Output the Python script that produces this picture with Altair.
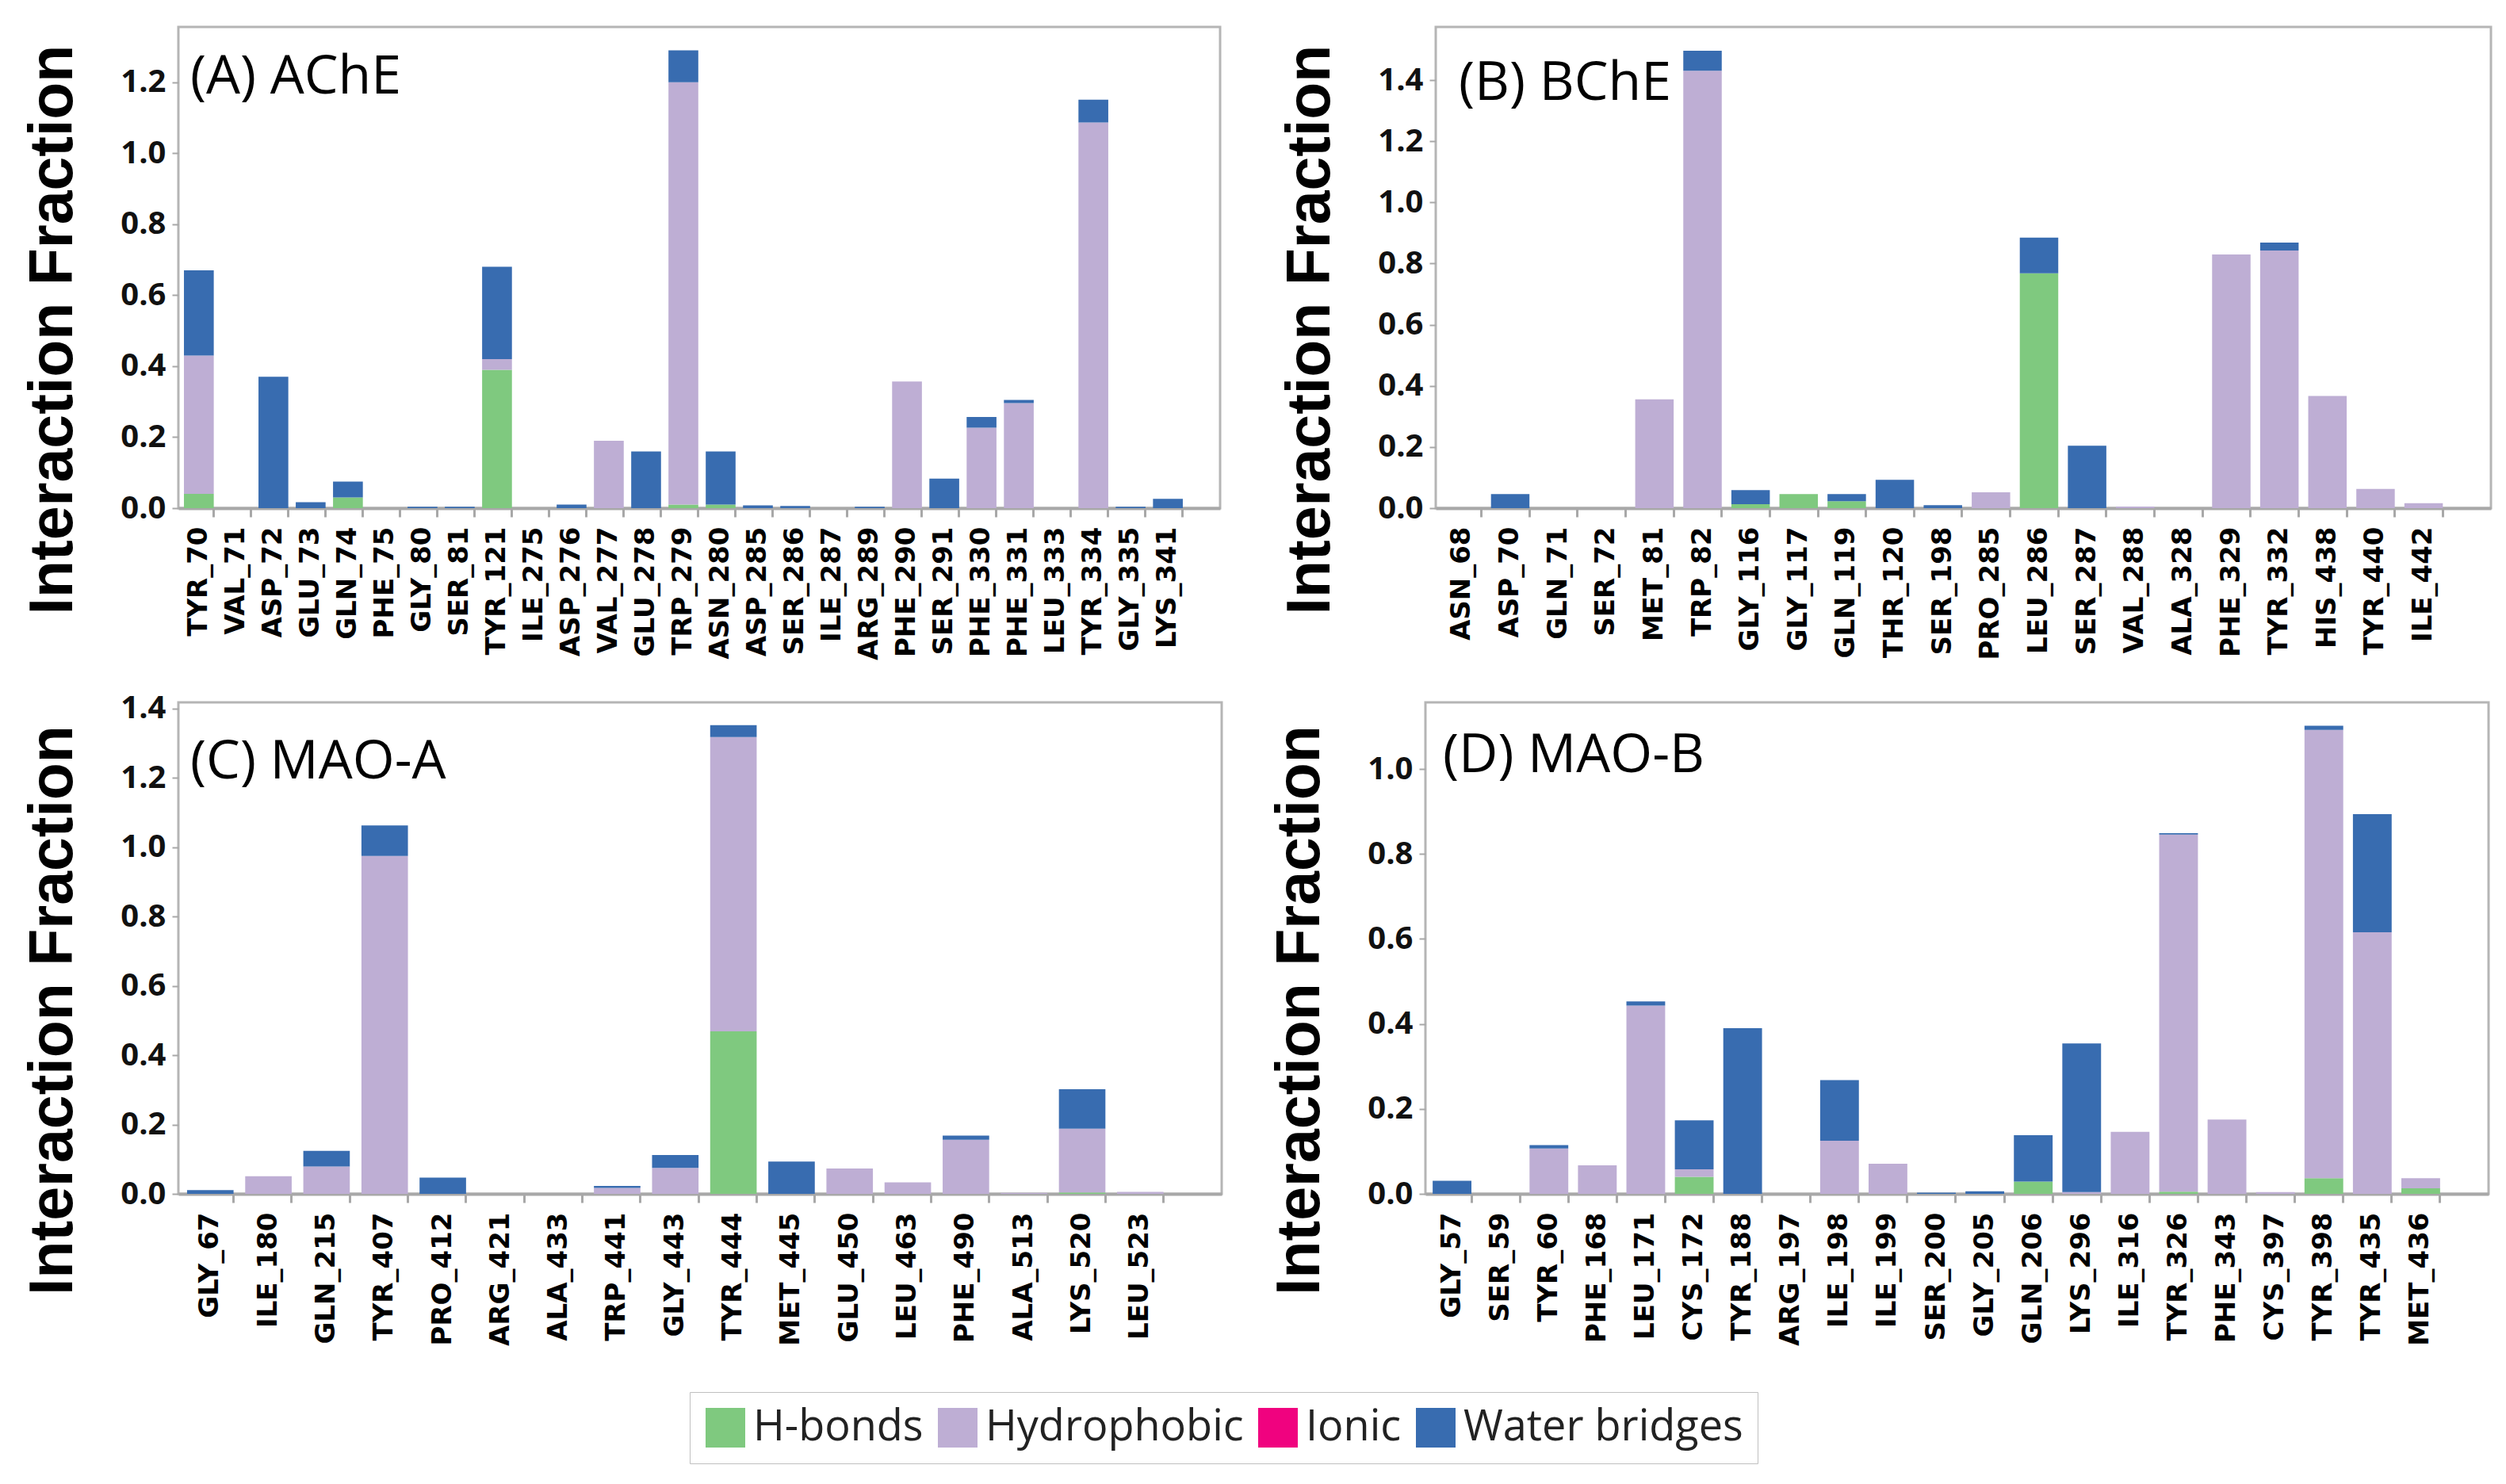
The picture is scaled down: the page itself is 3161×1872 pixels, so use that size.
import altair as alt
import pandas as pd

TYPES = ["H-bonds", "Hydrophobic", "Ionic", "Water bridges"]
COLORS = ["#7fc97f", "#beaed4", "#f0027f", "#386cb0"]

# ---------------- (A) AChE ----------------
a_res = ["TYR_70", "VAL_71", "ASP_72", "GLU_73", "GLN_74", "PHE_75", "GLY_80", "SER_81",
         "TYR_121", "ILE_275", "ASP_276", "VAL_277", "GLU_278", "TRP_279", "ASN_280",
         "ASP_285", "SER_286", "ILE_287", "ARG_289", "PHE_290", "SER_291", "PHE_330",
         "PHE_331", "LEU_333", "TYR_334", "GLY_335", "LYS_341"]
a_hb = [0.04, 0, 0, 0, 0.03, 0, 0, 0, 0.39, 0, 0, 0, 0, 0.01, 0.01, 0, 0, 0, 0, 0, 0, 0,
        0, 0, 0, 0, 0]
a_hyd = [0.39, 0, 0, 0, 0, 0, 0, 0, 0.03, 0, 0, 0.19, 0, 1.19, 0, 0, 0, 0, 0, 0.357, 0,
         0.227, 0.296, 0, 1.087, 0, 0]
a_ion = [0] * 27
a_wb = [0.24, 0, 0.37, 0.017, 0.045, 0, 0.004, 0.004, 0.26, 0, 0.01, 0, 0.16, 0.09, 0.15,
        0.008, 0.006, 0, 0.004, 0, 0.083, 0.03, 0.009, 0, 0.064, 0.004, 0.026]

# ---------------- (B) BChE ----------------
b_res = ["ASN_68", "ASP_70", "GLN_71", "SER_72", "MET_81", "TRP_82", "GLY_116", "GLY_117",
         "GLN_119", "THR_120", "SER_198", "PRO_285", "LEU_286", "SER_287", "VAL_288",
         "ALA_328", "PHE_329", "TYR_332", "HIS_438", "TYR_440", "ILE_442"]
b_hb = [0, 0, 0, 0, 0, 0, 0.013, 0.046, 0.023, 0, 0, 0, 0.768, 0, 0, 0, 0, 0, 0, 0, 0]
b_hyd = [0, 0, 0, 0, 0.356, 1.431, 0, 0, 0, 0, 0, 0.052, 0, 0, 0.005, 0, 0.83, 0.843,
         0.367, 0.063, 0.016]
b_ion = [0] * 21
b_wb = [0, 0.046, 0, 0, 0, 0.065, 0.046, 0, 0.023, 0.093, 0.01, 0, 0.117, 0.204, 0, 0, 0,
        0.026, 0, 0, 0]

# ---------------- (C) MAO-A ----------------
c_res = ["GLY_67", "ILE_180", "GLN_215", "TYR_407", "PRO_412", "ARG_421", "ALA_433",
         "TRP_441", "GLY_443", "TYR_444", "MET_445", "GLU_450", "LEU_463", "PHE_490",
         "ALA_513", "LYS_520", "LEU_523"]
c_hb = [0, 0, 0, 0, 0, 0, 0, 0, 0, 0.469, 0, 0, 0, 0, 0, 0.004, 0]
c_hyd = [0, 0.051, 0.079, 0.975, 0, 0, 0, 0.017, 0.075, 0.849, 0, 0.073, 0.033, 0.156,
         0.003, 0.184, 0.006]
c_ion = [0] * 17
c_wb = [0.011, 0, 0.045, 0.088, 0.047, 0, 0, 0.006, 0.037, 0.034, 0.093, 0, 0, 0.012, 0,
        0.114, 0]

# ---------------- (D) MAO-B ----------------
d_res = ["GLY_57", "SER_59", "TYR_60", "PHE_168", "LEU_171", "CYS_172", "TYR_188",
         "ARG_197", "ILE_198", "ILE_199", "SER_200", "GLY_205", "GLN_206", "LYS_296",
         "ILE_316", "TYR_326", "PHE_343", "CYS_397", "TYR_398", "TYR_435", "MET_436"]
d_hb = [0, 0, 0, 0, 0, 0.04, 0, 0, 0, 0, 0, 0, 0.029, 0, 0, 0.005, 0, 0, 0.037, 0, 0.013]
d_hyd = [0, 0, 0.107, 0.067, 0.443, 0.018, 0, 0, 0.125, 0.071, 0, 0, 0, 0.004, 0.146,
         0.841, 0.175, 0.004, 1.055, 0.616, 0.024]
d_ion = [0] * 21
d_wb = [0.031, 0, 0.008, 0, 0.01, 0.115, 0.39, 0, 0.143, 0, 0.003, 0.006, 0.109, 0.35, 0,
        0.003, 0, 0, 0.01, 0.278, 0]

Y_TICKS_A = [0, 0.2, 0.4, 0.6, 0.8, 1.0, 1.2]
Y_TICKS_B = [0, 0.2, 0.4, 0.6, 0.8, 1.0, 1.2, 1.4]
Y_TICKS_C = [0, 0.2, 0.4, 0.6, 0.8, 1.0, 1.2, 1.4]
Y_TICKS_D = [0, 0.2, 0.4, 0.6, 0.8, 1.0]


def long_df(res, hb, hyd, ion, wb):
    rows = []
    for i, r in enumerate(res):
        for k, (t, vals) in enumerate(zip(TYPES, [hb, hyd, ion, wb])):
            if vals[i] > 0:
                rows.append({"res": r, "type": t, "val": vals[i], "ord": k})
    return pd.DataFrame(rows)


def panel(title, res, series, ymax, yticks, width, height, tx, ty, show_legend=False):
    df = long_df(res, *series)
    color_kwargs = dict(scale=alt.Scale(domain=TYPES, range=COLORS))
    if show_legend:
        color_kwargs["legend"] = alt.Legend(
            title=None, orient="none", legendX=645, legendY=1722, direction="horizontal",
            columns=4, labelFont="Open Sans", labelFontSize=54, labelColor="#222",
            symbolType="square", symbolSize=2500, symbolStrokeWidth=0,
            labelOffset=8, columnPadding=16, padding=18, strokeColor="#c0c0c0",
            fillColor="white", labelLimit=600,
        )
    bars = alt.Chart(df).mark_bar().encode(
        x=alt.X("res:N", sort=res,
                scale=alt.Scale(domain=res, paddingInner=0.2, paddingOuter=0.575, align=0.13),
                axis=alt.Axis(title=None, labelAngle=-90, labelFont="DejaVu Sans",
                              labelFontWeight="bold", labelFontSize=34, labelColor="black",
                              labelPadding=12, tickSize=11, tickColor="#a8a8a8", tickWidth=3,
                              domainColor="#a8a8a8", domainWidth=4, bandPosition=1,
                              labelOverlap=False, labelBound=False)),
        y=alt.Y("val:Q", stack="zero",
                scale=alt.Scale(domain=[0, ymax], nice=False),
                axis=alt.Axis(title="Interaction Fraction", values=yticks, format=".1f",
                              labelFont="Open Sans", labelFontWeight="bold", labelFontSize=40,
                              labelColor="#111", tickSize=8, tickColor="#a8a8a8",
                              tickWidth=2, labelPadding=8, domain=False, grid=False,
                              titleFont="Liberation Sans", titleFontSize=77,
                              titleFontWeight="bold", titleColor="black", titleX=-135,
                              titleY=height / 2 + 78, titleAlign="center",
                              titleBaseline="alphabetic", titleAngle=270)),
        color=alt.Color("type:N", **color_kwargs),
        order=alt.Order("ord:Q", sort="ascending"),
    )
    txt = alt.Chart(pd.DataFrame({"t": [title]})).mark_text(
        align="left", baseline="alphabetic", font="Open Sans", fontSize=68, color="black"
    ).encode(text="t:N", x=alt.value(tx), y=alt.value(ty))
    return alt.layer(bars, txt).properties(width=width, height=height)


A = panel("(A) AChE", a_res, (a_hb, a_hyd, a_ion, a_wb), 1.356, Y_TICKS_A, 1314, 607, 15, 84,
          show_legend=True)
B = panel("(B) BChE", b_res, (b_hb, b_hyd, b_ion, b_wb), 1.574, Y_TICKS_B, 1331, 607, 29, 92)
C = panel("(C) MAO-A", c_res, (c_hb, c_hyd, c_ion, c_wb), 1.418, Y_TICKS_C, 1316, 620, 15, 96)
D = panel("(D) MAO-B", d_res, (d_hb, d_hyd, d_ion, d_wb), 1.157, Y_TICKS_D, 1341, 620, 22, 88)

chart = alt.vconcat(
    alt.hconcat(A, B, spacing=71),
    alt.hconcat(C, D, spacing=56),
    spacing=38,
).properties(
    padding={"left": 18, "top": 24, "right": 8, "bottom": 8},
    background="white",
).configure_view(
    stroke="#b5b5b5", strokeWidth=3
)

chart.save("out.html", embed_options={"renderer": "svg", "actions": False})
